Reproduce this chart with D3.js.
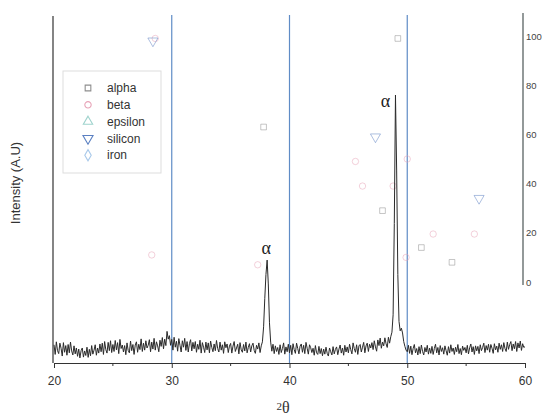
<!DOCTYPE html>
<html>
<head>
<meta charset="utf-8">
<script src="https://cdnjs.cloudflare.com/ajax/libs/d3/7.8.5/d3.min.js"></script>
<style>
body {margin: 0; background: #fff;}
text {font-family: "Liberation Sans", Arial, sans-serif;}
</style>
</head>
<body>
<svg id="chart" width="543" height="416"></svg>
<script>
// measured pattern, 2theta 20 -> 60 in 0.1 deg steps (A.U.)
var thetaStart = 20, thetaStep = 0.1;
var intensity = [
  6.8, 3.2, 7.9, 4.6, 3.5, 7.4, 5.5, 2.6, 7.6, 4.0,
  6.5, 2.9, 6.9, 3.8, 7.8, 4.5, 3.0, 6.4, 3.4, 5.6,
  2.5, 5.2, 1.9, 4.6, 5.6, 2.2, 4.5, 2.8, 5.9, 2.1,
  5.1, 2.7, 6.5, 3.3, 4.8, 6.8, 2.9, 5.6, 3.7, 7.1,
  4.2, 7.4, 3.2, 8.0, 5.0, 3.7, 7.7, 4.6, 8.3, 3.9,
  6.9, 4.3, 8.4, 4.9, 7.6, 3.5, 8.8, 5.4, 6.7, 4.1,
  6.5, 3.1, 7.5, 4.7, 3.8, 8.2, 4.6, 6.9, 3.2, 6.7,
  7.9, 4.0, 7.0, 5.0, 9.0, 4.3, 7.4, 4.8, 8.3, 5.6,
  6.6, 8.7, 4.2, 7.8, 5.2, 9.2, 4.8, 7.9, 6.4, 4.2,
  8.5, 6.2, 9.5, 5.3, 8.9, 6.5, 11.8, 8.9, 10.2, 6.6,
  8.8, 4.8, 9.6, 5.9, 8.1, 4.4, 9.1, 6.6, 4.1, 8.3,
  5.9, 9.2, 4.7, 8.0, 4.1, 7.2, 8.7, 4.5, 7.7, 5.3,
  8.0, 4.0, 7.0, 5.1, 8.5, 3.7, 7.6, 5.9, 3.9, 7.8,
  4.9, 7.5, 3.8, 8.2, 5.8, 4.2, 7.1, 4.6, 8.4, 5.4,
  4.1, 7.8, 4.8, 6.8, 3.6, 7.9, 5.7, 7.1, 3.9, 6.3,
  7.3, 3.7, 6.3, 8.0, 4.3, 5.6, 7.0, 3.4, 7.6, 4.9,
  4.0, 6.9, 4.5, 7.8, 3.8, 5.8, 7.2, 4.1, 6.4, 7.4,
  4.7, 3.6, 6.6, 5.2, 7.5, 3.9, 6.4, 7.9, 13.5, 24.0,
  33.0, 38.4, 29.5, 15.0, 7.8, 4.4, 7.0, 3.5, 6.4, 4.3,
  5.8, 3.2, 6.8, 3.9, 5.4, 7.5, 3.3, 6.0, 4.2, 7.0,
  3.8, 6.6, 3.1, 7.2, 5.0, 3.6, 7.4, 5.4, 3.4, 6.3,
  7.1, 4.0, 6.6, 3.5, 7.7, 5.5, 3.3, 6.8, 5.7, 3.9,
  5.5, 2.9, 6.5, 3.8, 3.2, 6.2, 3.5, 5.4, 2.7, 5.2,
  3.3, 5.9, 3.6, 2.6, 5.6, 4.2, 3.0, 6.1, 3.4, 5.1,
  6.0, 3.1, 5.2, 6.7, 3.7, 5.6, 2.9, 6.6, 4.1, 6.0,
  3.8, 7.0, 5.0, 3.4, 7.5, 5.4, 4.0, 6.8, 3.2, 6.4,
  6.9, 4.1, 5.9, 7.7, 3.8, 6.4, 7.4, 4.3, 7.0, 5.6,
  7.6, 5.0, 8.3, 6.0, 4.4, 8.6, 6.5, 9.3, 5.5, 7.8,
  6.4, 9.4, 7.2, 5.8, 9.6, 7.4, 9.8, 11.5, 18.0, 52.0,
  100, 72.0, 33.0, 15.5, 12.0, 13.0, 11.2, 8.0, 6.2, 4.8,
  4.2, 6.6, 3.6, 6.3, 3.1, 5.4, 6.9, 3.8, 5.4, 3.0,
  6.1, 3.5, 6.7, 4.3, 3.0, 5.8, 4.1, 6.6, 3.3, 5.6,
  3.6, 6.2, 3.2, 5.4, 7.0, 3.8, 5.8, 3.0, 6.5, 4.3,
  5.7, 3.3, 6.4, 4.6, 2.9, 6.1, 3.7, 6.8, 4.3, 5.6,
  3.2, 5.9, 4.2, 6.9, 3.5, 5.4, 3.1, 6.3, 4.7, 5.8,
  3.8, 6.6, 3.4, 5.7, 7.1, 4.1, 6.1, 3.2, 6.4, 4.5,
  6.2, 3.5, 6.8, 4.6, 5.8, 7.4, 3.9, 6.5, 4.8, 7.0,
  4.0, 6.9, 5.5, 3.6, 7.2, 4.9, 6.3, 4.0, 7.4, 5.1,
  6.8, 4.3, 7.6, 5.4, 4.3, 7.8, 5.1, 6.9, 8.0, 4.6,
  7.1, 5.3, 8.0, 4.3, 7.5, 5.6, 8.2, 4.7, 7.2, 5.8,
  6.1
];

// reference peaks [2theta, relative intensity] on the right axis
var alphaRef = [[37.8, 63], [49.2, 99], [47.9, 29], [51.2, 14], [53.8, 8]];
var betaRef = [[28.6, 99], [28.3, 11], [37.3, 7], [45.6, 49], [46.2, 39], [48.8, 39], [50.0, 50], [49.9, 10], [52.2, 19.5], [55.7, 19.5]];
var epsilonRef = [];
var siliconRef = [[28.4, 98], [47.3, 59], [56.1, 34]];
var ironRef = [];

var seriesNames = ["alpha", "beta", "epsilon", "silicon", "iron"];
var xTicks = [20, 30, 40, 50, 60];
var xMinorTicks = [25, 35, 45, 55];
var rightTicks = [0, 20, 40, 60, 80, 100];
var guideLines = [30, 40, 50];
var peakLabels = [[38.1, 38.4], [49.0, 100]];

var svg = d3.select("#chart");

var x = d3.scaleLinear().domain([20, 60]).range([54, 525]);
var yL = d3.scaleLinear().domain([0, 100]).range([363, 95]);
var yR = d3.scaleLinear().domain([0, 100]).range([282, 36]);

var symbols = {
  alpha: {type: d3.symbolSquare, size: 32, color: "#8e8e8e"},
  beta: {type: d3.symbolCircle, size: 32, color: "#e7a3b7"},
  epsilon: {type: d3.symbolTriangle, size: 38, color: "#9fd3cd"},
  silicon: {type: d3.symbolTriangle, size: 44, color: "#5b80c2", rot: 180},
  iron: {type: d3.symbolDiamond, size: 36, color: "#a9c9ea"}
};
var refData = {alpha: alphaRef, beta: betaRef, epsilon: epsilonRef, silicon: siliconRef, iron: ironRef};

// blue guide lines
svg.selectAll("line.guide")
  .data(guideLines)
  .enter().append("line")
    .attr("class", "guide")
    .attr("x1", d => x(d)).attr("x2", d => x(d))
    .attr("y1", 15).attr("y2", 363)
    .style("stroke", "#5f8cc6")
    .style("stroke-width", 1.2);

// reference markers
seriesNames.forEach(function(name) {
  var s = symbols[name];
  svg.selectAll("path.ref-" + name)
    .data(refData[name])
    .enter().append("path")
      .attr("class", "ref-" + name)
      .attr("d", d3.symbol().type(s.type).size(s.size))
      .attr("transform", d => "translate(" + x(d[0]) + "," + yR(d[1]) + ")" + (s.rot ? " rotate(" + s.rot + ")" : ""))
      .style("fill", "none")
      .style("stroke", s.color)
      .style("stroke-width", 1)
      .style("opacity", 0.5);
});

// pattern
var line = d3.line()
  .x((d, i) => x(thetaStart + i * thetaStep))
  .y(d => yL(d));

svg.append("path")
  .datum(intensity)
  .attr("d", line)
  .style("fill", "none")
  .style("stroke", "#2a2a2a")
  .style("stroke-width", 1);

// peak labels (main peak label sits left of the line)
svg.selectAll("text.peak")
  .data(peakLabels)
  .enter().append("text")
    .attr("class", "peak")
    .attr("x", (d, i) => x(d[0]) + (i == 1 ? -10 : -1))
    .attr("y", (d, i) => yL(d[1]) + (i == 1 ? 12 : -6))
    .attr("text-anchor", "middle")
    .style("font-family", "'Liberation Serif', 'DejaVu Serif', serif")
    .style("font-size", "18px")
    .style("fill", "#222")
    .text("\u03b1");

// left axis
svg.append("line")
  .attr("x1", 53).attr("x2", 53).attr("y1", 16).attr("y2", 363)
  .style("stroke", "#333").style("stroke-width", 1.2);

svg.append("text")
  .attr("transform", "translate(20,183) rotate(-90)")
  .attr("text-anchor", "middle")
  .style("font-size", "13px")
  .style("fill", "#333")
  .text("Intensity (A.U)");

// bottom axis
var xAxis = svg.append("g")
  .attr("transform", "translate(0,363)")
  .call(d3.axisBottom(x).tickValues(xTicks).tickSize(5).tickSizeOuter(0).tickPadding(8));
xAxis.select(".domain").style("stroke", "#333").style("stroke-width", 1.2);
xAxis.selectAll(".tick line").style("stroke", "#333");
xAxis.selectAll(".tick text")
  .style("font-family", "'Liberation Sans', Arial, sans-serif")
  .style("font-size", "12px")
  .style("fill", "#333");
xAxis.selectAll("line.minor")
  .data(xMinorTicks)
  .enter().append("line")
    .attr("class", "minor")
    .attr("x1", d => x(d)).attr("x2", d => x(d))
    .attr("y1", 0).attr("y2", 3)
    .style("stroke", "#333");

var xTitle = svg.append("text")
  .attr("x", 283).attr("y", 413)
  .attr("text-anchor", "middle")
  .style("font-family", "'Liberation Serif', 'DejaVu Serif', serif")
  .style("fill", "#333");
xTitle.append("tspan").style("font-size", "11px").attr("dy", -3).text("2");
xTitle.append("tspan").style("font-size", "16px").attr("dy", 3).text("\u03b8");

// right axis
svg.append("line")
  .attr("x1", 523).attr("x2", 523).attr("y1", 13).attr("y2", 285)
  .style("stroke", "#4b5656").style("stroke-width", 1.2);

var rAxis = svg.append("g")
  .attr("transform", "translate(523,0)")
  .call(d3.axisRight(yR).tickValues(rightTicks).tickSize(0).tickPadding(3));
rAxis.select(".domain").remove();
rAxis.selectAll(".tick text")
  .style("font-family", "'Liberation Sans', Arial, sans-serif")
  .style("font-size", "9.5px")
  .style("fill", "#444");

// legend
var legend = svg.append("g");
legend.append("rect")
  .attr("x", 63).attr("y", 71).attr("width", 98).attr("height", 102)
  .style("fill", "#fff").style("stroke", "#ddd");

var items = legend.selectAll("g.item")
  .data(seriesNames)
  .enter().append("g")
    .attr("class", "item")
    .attr("transform", (d, i) => "translate(0," + (88 + i * 16.8) + ")");
items.append("path")
  .attr("d", d => d3.symbol().type(symbols[d].type).size(symbols[d].size)())
  .attr("transform", d => "translate(88,0)" + (symbols[d].rot ? " rotate(" + symbols[d].rot + ")" : ""))
  .style("fill", "none")
  .style("stroke", d => symbols[d].color)
  .style("stroke-width", 1.1);
items.append("text")
  .attr("x", 107).attr("dy", "0.35em")
  .style("font-size", "12px")
  .style("fill", "#333")
  .text(d => d);
</script>
</body>
</html>
